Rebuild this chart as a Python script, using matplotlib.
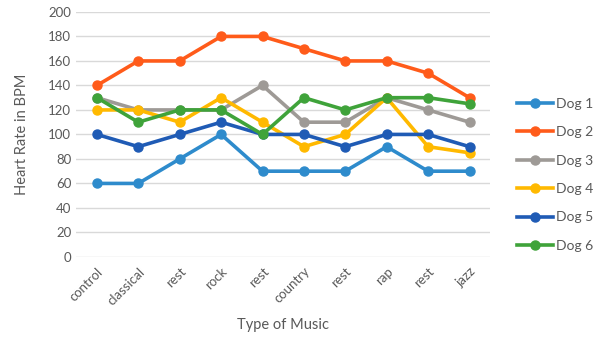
import numpy as np
import matplotlib.pyplot as plt

plt.rcParams['font.family'] = ['Lato', 'DejaVu Sans']

# Music played in each session
music = ['control', 'classical', 'rest', 'rock', 'rest', 'country', 'rest', 'rap', 'rest', 'jazz']

# Heart rate (BPM) per dog
dog1 = [60, 60, 80, 100, 70, 70, 70, 90, 70, 70]
dog2 = [140, 160, 160, 180, 180, 170, 160, 160, 150, 130]
dog3 = [130, 120, 120, 120, 140, 110, 110, 130, 120, 110]
dog4 = [120, 120, 110, 130, 110, 90, 100, 130, 90, 85]
dog5 = [100, 90, 100, 110, 100, 100, 90, 100, 100, 90]
dog6 = [130, 110, 120, 120, 100, 130, 120, 130, 130, 125]

series = [dog1, dog2, dog3, dog4, dog5, dog6]
names = ['Dog 1', 'Dog 2', 'Dog 3', 'Dog 4', 'Dog 5', 'Dog 6']
colors = ['#2E8BCC', '#FF5B1A', '#9E9A96', '#FFB900', '#1F5BB5', '#3FA33A']

text_color = '#595959'

fig = plt.figure(figsize=(6.0, 3.51), dpi=100)
ax = fig.add_axes([0.127, 0.268, 0.69, 0.698])

x = np.arange(len(music))
for vals, name, col in zip(series, names, colors):
    ax.plot(x, vals, color=col, linewidth=2.6, marker='o', markersize=6.5, label=name)

ax.set_xlim(-0.5, len(music) - 0.5)
ax.set_ylim(0, 200)
ax.set_yticks(np.arange(0, 201, 20))
ax.set_xticks(x)
ax.set_xticklabels(music, rotation=45, ha='right', rotation_mode='anchor')
ax.tick_params(axis='both', length=0, labelsize=9.5, colors=text_color)
ax.tick_params(axis='x', pad=6)
ax.grid(axis='y', color='#D9D9D9', linewidth=1)
ax.set_axisbelow(True)
for s in ax.spines.values():
    s.set_visible(False)

ax.set_ylabel('Heart Rate in BPM', fontsize=10.5, color=text_color, labelpad=14)
ax.set_xlabel('Type of Music', fontsize=10.5, color=text_color, labelpad=8)

ax.legend(loc='center left', bbox_to_anchor=(1.035, 0.335), frameon=False,
          fontsize=10, labelcolor=text_color, handlelength=2.6,
          labelspacing=1.18, handletextpad=0.2)

plt.savefig('out.png', dpi=100)
